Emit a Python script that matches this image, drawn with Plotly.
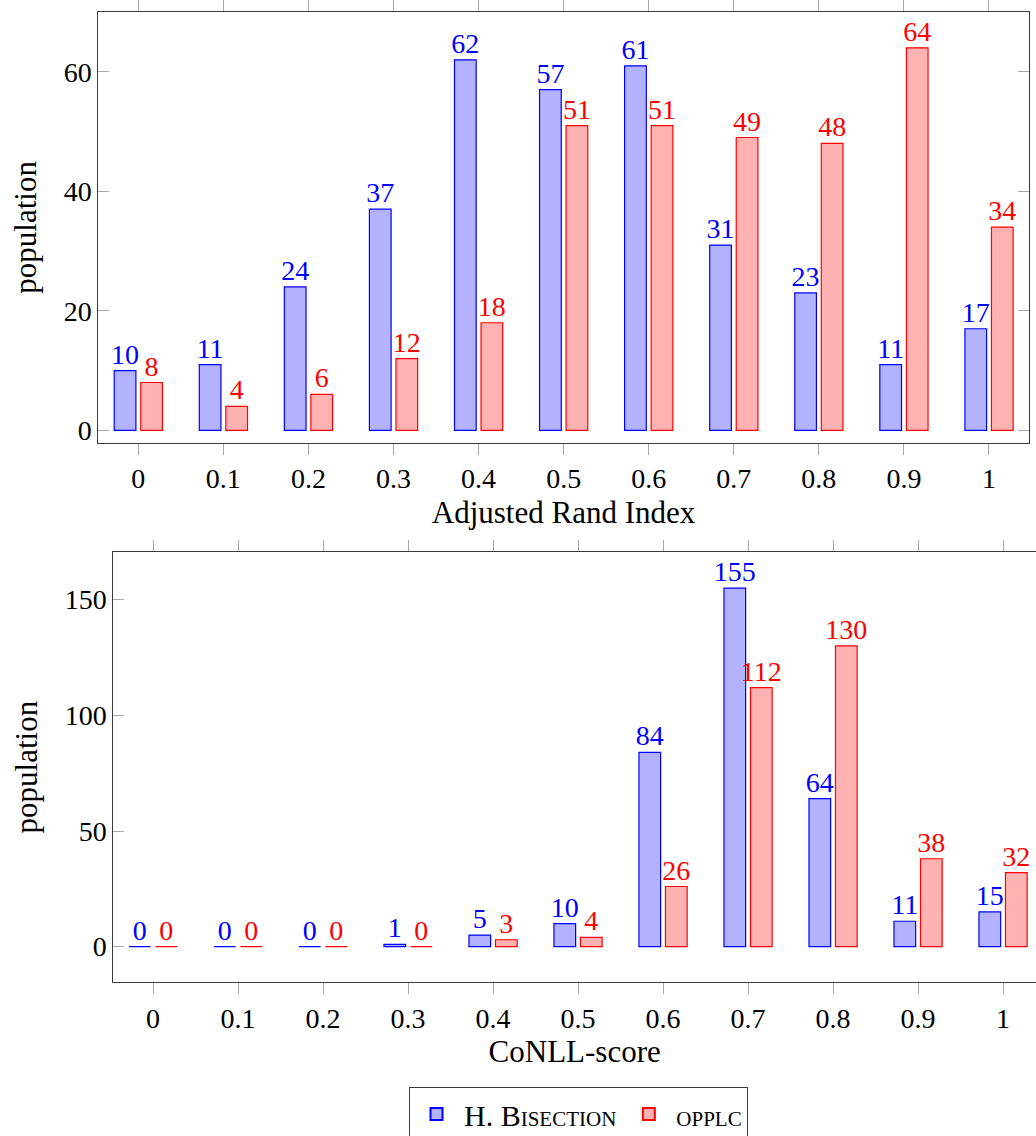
import plotly.graph_objects as go

# ---------------- data ----------------
x_vals = [0, 0.1, 0.2, 0.3, 0.4, 0.5, 0.6, 0.7, 0.8, 0.9, 1.0]
x_tick_labels = ["0", "0.1", "0.2", "0.3", "0.4", "0.5", "0.6", "0.7", "0.8", "0.9", "1"]

ari_bisection = [10, 11, 24, 37, 62, 57, 61, 31, 23, 11, 17]
ari_opplc = [8, 4, 6, 12, 18, 51, 51, 49, 48, 64, 34]

conll_bisection = [0, 0, 0, 1, 5, 10, 84, 155, 64, 11, 15]
conll_opplc = [0, 0, 0, 0, 3, 4, 26, 112, 130, 38, 32]

series_names = ["H. Bisection", "opplc"]
ari_yticks = [0, 20, 40, 60]
conll_yticks = [0, 50, 100, 150]

# ---------------- style ----------------
FONT = "Liberation Serif"
FS = 28          # tick labels / value labels
FS_TITLE = 31    # axis titles
FS_LEG = 30      # legend
BLUE_LINE = "rgb(0,0,255)"
BLUE_FILL = "rgb(178,178,255)"
RED_LINE = "rgb(255,0,0)"
RED_FILL = "rgb(255,178,178)"
FRAME = "#3a3a3a"
TICK = "#a8a8a8"

BAR_W = 0.0255
OFF_B = -0.0283
OFF_R = 0.0029

W, H = 1036, 1136

fig = go.Figure()


def add_pair(b_vals, r_vals, xa, ya, show_legend):
    for vals, off, line, fill, name in [
        (b_vals, OFF_B, BLUE_LINE, BLUE_FILL, series_names[0]),
        (r_vals, OFF_R, RED_LINE, RED_FILL, series_names[1]),
    ]:
        fig.add_trace(go.Bar(
            x=x_vals, y=vals, width=BAR_W, offset=off,
            marker=dict(color=fill, line=dict(color=line, width=1.2)),
            name=name, showlegend=show_legend, legendgroup=name,
            xaxis=xa, yaxis=ya, hoverinfo="skip",
        ))
        fig.add_trace(go.Scatter(
            x=[v + off + BAR_W / 2 for v in x_vals], y=vals,
            mode="text", text=[str(v) for v in vals],
            textposition="top center",
            textfont=dict(family=FONT, size=FS, color=line),
            showlegend=False, xaxis=xa, yaxis=ya, cliponaxis=False,
            hoverinfo="skip",
        ))


add_pair(ari_bisection, ari_opplc, "x", "y", True)
add_pair(conll_bisection, conll_opplc, "x2", "y2", False)


def px_x(p):
    return p / W


def px_y(p):
    return 1 - p / H


tick_font = dict(family=FONT, size=FS, color="black")
title_font = dict(family=FONT, size=FS_TITLE, color="black")

common_x = dict(
    tickmode="array", tickvals=x_vals, ticktext=x_tick_labels,
    ticks="outside", ticklen=11, tickcolor=TICK, tickwidth=1,
    showline=True, linecolor=FRAME, linewidth=1,
    showgrid=False, zeroline=False, tickfont=tick_font,
)

common_y = dict(
    tickmode="array", ticks="inside", ticklen=11, tickcolor=TICK, tickwidth=1,
    showline=True, linecolor=FRAME, linewidth=1,
    showgrid=False, zeroline=False, tickfont=tick_font,
)

fig.update_layout(
    width=W, height=H,
    margin=dict(l=0, r=0, t=0, b=0, autoexpand=False),
    paper_bgcolor="white", plot_bgcolor="white",
    barmode="overlay",
    font=dict(family=FONT, size=FS, color="black"),
    xaxis=dict(common_x, domain=[px_x(98.3), px_x(1028.7)], range=[-0.047, 1.0467],
               anchor="y", mirror="ticks",
               title=dict(text="Adjusted Rand Index", font=title_font, standoff=8)),
    yaxis=dict(common_y, domain=[px_y(442.7), px_y(12)], range=[-2.07, 70], anchor="x",
               tickvals=ari_yticks, mirror="ticks",
               title=dict(text="population", font=title_font, standoff=17)),
    xaxis2=dict(common_x, domain=[px_x(113.3), 1.0], range=[-0.0467, 1.0388],
                anchor="y2", mirror="ticks",
                title=dict(text="CoNLL-score", font=title_font, standoff=7)),
    yaxis2=dict(common_y, domain=[px_y(982.3), px_y(552)], range=[-15.4, 170.6], anchor="x2",
                tickvals=conll_yticks, mirror=False,
                title=dict(text="population", font=title_font, standoff=17)),
    legend=dict(
        orientation="h", x=578.5 / W, xanchor="center", y=px_y(1087), yanchor="top",
        bordercolor=FRAME, borderwidth=1, bgcolor="white",
        font=dict(family=FONT, size=FS_LEG, color="black", variant="small-caps"),
        itemsizing="constant", itemwidth=45,
    ),
)

fig.write_html("out.html")
